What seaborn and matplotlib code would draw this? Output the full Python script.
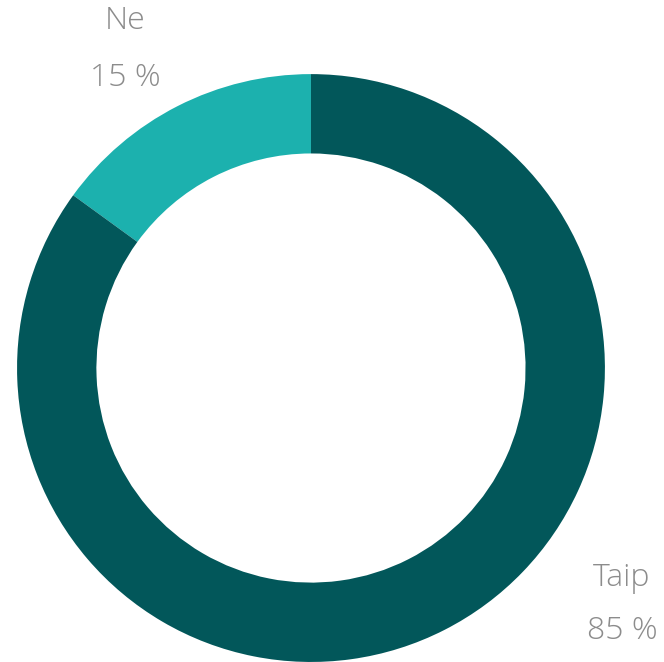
import matplotlib
matplotlib.use("Agg")
import matplotlib.pyplot as plt
import seaborn as sns

# Data
labels = ["Ne", "Taip"]
shares = [15, 85]
colors = ["#1CB1AE", "#02575A"]

sns.set_theme(style="white")
plt.rcParams["font.family"] = ["Open Sans", "DejaVu Sans"]

fig = plt.figure(figsize=(6.64, 6.62), dpi=100)
ax = fig.add_axes([0, 0, 1, 1])

wedges, _ = ax.pie(shares, colors=colors, startangle=90, counterclock=True,
                   radius=1.0, wedgeprops=dict(width=0.27, linewidth=0))

ax.set_aspect("equal")
ax.set_xlim(-1.058, 1.201)
ax.set_ylim(-1.0, 1.252)
ax.axis("off")

# Labels: name above, share below
label_pos = {"Ne": (-0.633, 1.180, 0.988), "Taip": (1.058, -0.713, -0.893)}
for name, val in zip(labels, shares):
    x, y1, y2 = label_pos[name]
    ax.text(x, y1, name, ha="center", va="center", fontsize=23,
            color="#8C8C8C", fontweight="light")
    ax.text(x, y2, f"{val} %", ha="center", va="center", fontsize=23,
            color="#8C8C8C", fontweight="light")

fig.savefig("out.png", dpi=100, facecolor="white")
